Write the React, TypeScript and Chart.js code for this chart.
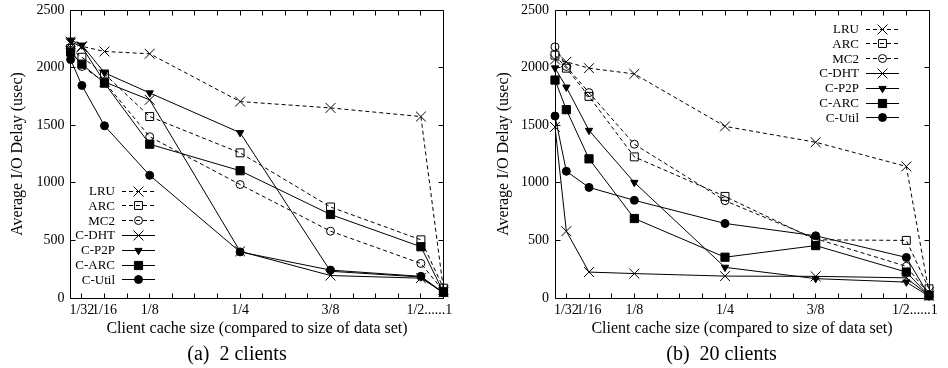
import React, { useEffect, useRef } from 'react';
import { Chart, registerables } from 'chart.js';

Chart.register(...registerables);

const FONT = "'Liberation Serif', 'Times New Roman', serif";
Chart.defaults.font.family = FONT;
Chart.defaults.color = '#000';

// ---- data ----
const cacheSizes = ['1/64', '1/32', '1/16', '1/8', '1/4', '3/8', '1/2', '1'];
// axis coordinate of each cache size (the axis is broken between 1/2 and 1)
const cacheAxisPos = [1 / 64, 1 / 32, 1 / 16, 1 / 8, 1 / 4, 3 / 8, 1 / 2, 17 / 32];

const xTickLabels = ['1/32', '1/16', '1/8', '1/4', '3/8', '1/2......1', ''];
const xTickLabelPos = [1 / 32, 1 / 16, 1 / 8, 1 / 4, 3 / 8, 131 / 256, 17 / 32];
const xMinorTicks = Array.from({ length: 16 }, (_, i) => (i + 1) / 32);
const yTicks = [0, 500, 1000, 1500, 2000, 2500];

const seriesNames = ['LRU', 'ARC', 'MC2', 'C-DHT', 'C-P2P', 'C-ARC', 'C-Util'];

// (a) 2 clients
const lru2 = [2210, 2185, 2140, 2120, 1705, 1650, 1575, 70];
const arc2 = [2165, 2090, 1945, 1575, 1260, 790, 505, 85];
const mc2_2 = [2150, 2010, 1875, 1400, 985, 580, 300, 60];
const cdht2 = [2225, 2180, 1875, 1720, 405, 195, 172, 50];
const cp2p2 = [2238, 2195, 1955, 1780, 1435, 232, 182, 40];
const carc2 = [2135, 2030, 1865, 1335, 1105, 725, 445, 50];
const cutil2 = [2070, 1845, 1495, 1065, 400, 242, 188, 45];

// (b) 20 clients
const lru20 = [2070, 2050, 1995, 1945, 1490, 1352, 1142, 50];
const arc20 = [2108, 1995, 1750, 1225, 882, 505, 500, 80];
const mc2_20 = [2180, 2010, 1783, 1335, 845, 515, 275, 30];
const cdht20 = [1485, 580, 225, 212, 190, 188, 175, 20];
const cp2p20 = [1997, 1830, 1455, 1003, 266, 168, 138, 15];
const carc20 = [1892, 1635, 1208, 690, 354, 455, 225, 20];
const cutil20 = [1580, 1100, 960, 848, 647, 540, 352, 20];

const panelA = [lru2, arc2, mc2_2, cdht2, cp2p2, carc2, cutil2];
const panelB = [lru20, arc20, mc2_20, cdht20, cp2p20, carc20, cutil20];

// ---- styles ----
type St = { dash: number[]; point: string; r: number; rot: number; filled: boolean };
const STYLES: St[] = [
  { dash: [4, 3], point: 'crossRot', r: 7, rot: 0, filled: false },
  { dash: [4, 3], point: 'rect', r: 5.6, rot: 0, filled: false },
  { dash: [4, 3], point: 'circle', r: 4, rot: 0, filled: false },
  { dash: [], point: 'crossRot', r: 7, rot: 0, filled: false },
  { dash: [], point: 'triangle', r: 4.2, rot: 180, filled: true },
  { dash: [], point: 'rect', r: 5.8, rot: 0, filled: true },
  { dash: [], point: 'circle', r: 4, rot: 0, filled: true },
];

function drawMarker(ctx: CanvasRenderingContext2D, s: St, x: number, y: number) {
  ctx.save();
  ctx.setLineDash([]);
  ctx.lineWidth = 1;
  ctx.strokeStyle = '#000';
  ctx.fillStyle = s.filled ? '#000' : 'rgba(0,0,0,0)';
  ctx.beginPath();
  const r = s.r;
  if (s.point === 'crossRot') {
    const d = r * Math.SQRT1_2;
    ctx.moveTo(x - d, y - d);
    ctx.lineTo(x + d, y + d);
    ctx.moveTo(x - d, y + d);
    ctx.lineTo(x + d, y - d);
  } else if (s.point === 'rect') {
    const d = r * Math.SQRT1_2;
    ctx.rect(x - d, y - d, 2 * d, 2 * d);
  } else if (s.point === 'circle') {
    ctx.arc(x, y, r, 0, Math.PI * 2);
  } else if (s.point === 'triangle') {
    let rad = (s.rot * Math.PI) / 180;
    ctx.moveTo(x + Math.sin(rad) * r, y - Math.cos(rad) * r);
    rad += (2 * Math.PI) / 3;
    ctx.lineTo(x + Math.sin(rad) * r, y - Math.cos(rad) * r);
    rad += (2 * Math.PI) / 3;
    ctx.lineTo(x + Math.sin(rad) * r, y - Math.cos(rad) * r);
    ctx.closePath();
  }
  if (s.filled) ctx.fill();
  ctx.stroke();
  ctx.restore();
}

type LegendCfg = {
  corner: 'bottomleft' | 'topright';
  textDx: number;
  sampleDx0: number;
  sampleDx1: number;
  rowDy: number;
  rowGap: number;
};

const decorPlugin = {
  id: 'gpDecor',
  afterDraw(chart: any, _args: any, opts: any) {
    const { ctx, chartArea: ca, scales } = chart;
    const xs = scales.x;
    const ys = scales.y;
    ctx.save();
    ctx.strokeStyle = '#000';
    ctx.lineWidth = 1;
    ctx.setLineDash([]);
    const L = Math.floor(ca.left) + 0.5;
    const R = Math.floor(ca.right) + 0.5;
    const T = Math.floor(ca.top) + 0.5;
    const B = Math.floor(ca.bottom) + 0.5;
    ctx.beginPath();
    ctx.rect(L, T, R - L, B - T);
    const tl = 5;
    xMinorTicks.forEach((v) => {
      const px = Math.floor(xs.getPixelForValue(v)) + 0.5;
      ctx.moveTo(px, B);
      ctx.lineTo(px, B - tl);
      ctx.moveTo(px, T);
      ctx.lineTo(px, T + tl);
    });
    yTicks.forEach((v) => {
      const py = Math.floor(ys.getPixelForValue(v)) + 0.5;
      ctx.moveTo(L, py);
      ctx.lineTo(L + tl, py);
      ctx.moveTo(R, py);
      ctx.lineTo(R - tl, py);
    });
    ctx.stroke();

    // legend
    const lg: LegendCfg = opts.legend;
    const anchorX = lg.corner === 'bottomleft' ? ca.left : ca.right;
    const y0 = ca.top + lg.rowDy;
    ctx.font = `13px ${FONT}`;
    ctx.fillStyle = '#000';
    ctx.textAlign = 'right';
    ctx.textBaseline = 'middle';
    chart.data.datasets.forEach((ds: any, i: number) => {
      const y = y0 + i * lg.rowGap;
      const s = STYLES[i];
      ctx.fillText(ds.label, anchorX + lg.textDx, y + 0.5);
      ctx.save();
      ctx.beginPath();
      ctx.setLineDash(s.dash);
      ctx.lineWidth = 1;
      const yy = Math.floor(y) + 0.5;
      ctx.moveTo(anchorX + lg.sampleDx0, yy);
      ctx.lineTo(anchorX + lg.sampleDx1, yy);
      ctx.stroke();
      ctx.restore();
      drawMarker(ctx, s, anchorX + (lg.sampleDx0 + lg.sampleDx1) / 2, yy);
    });
    ctx.restore();
  },
};

type PanelCfg = {
  left: number;
  padL: number;
  padR: number;
  yWidth: number;
  caption: string;
  captionCenter: number;
  values: number[][];
  legend: LegendCfg;
};

const W = 474;
const H = 368;

function Panel({ cfg }: { cfg: PanelCfg }) {
  const ref = useRef<HTMLCanvasElement>(null);
  useEffect(() => {
    if (!ref.current) return;
    const datasets = cfg.values.map((vals, i) => {
      const s = STYLES[i];
      return {
        label: seriesNames[i],
        data: vals.map((v, j) => ({ x: cacheAxisPos[j], y: v })),
        borderColor: '#000',
        borderWidth: 1,
        borderDash: s.dash,
        pointStyle: s.point,
        pointRadius: s.r,
        pointRotation: s.rot,
        pointBorderColor: '#000',
        pointBorderWidth: 1,
        pointBackgroundColor: s.filled ? '#000' : 'rgba(0,0,0,0)',
        backgroundColor: 'rgba(0,0,0,0)',
        fill: false,
        tension: 0,
        clip: false,
      };
    });
    const chart = new Chart(ref.current, {
      type: 'line',
      data: { datasets } as any,
      options: {
        responsive: false,
        animation: false,
        devicePixelRatio: 1,
        events: [],
        layout: { padding: { left: cfg.padL, right: cfg.padR, top: 10, bottom: 28 } },
        plugins: {
          legend: { display: false },
          tooltip: { enabled: false },
          gpDecor: { legend: cfg.legend },
        } as any,
        scales: {
          x: {
            type: 'linear',
            min: 1 / 64,
            max: 17 / 32,
            afterBuildTicks: (s: any) => {
              s.ticks = xTickLabelPos.map((v) => ({ value: v }));
            },
            afterFit: (s: any) => {
              s.height = 42;
              s.paddingLeft = 0;
              s.paddingRight = 0;
            },
            ticks: {
              autoSkip: false,
              maxRotation: 0,
              minRotation: 0,
              padding: 4,
              color: '#000',
              font: { family: FONT, size: 14 },
              callback: (v: any) => {
                const k = xTickLabelPos.findIndex((p) => Math.abs(p - Number(v)) < 1e-9);
                return k >= 0 ? xTickLabels[k] : '';
              },
            },
            grid: { display: false, drawTicks: false },
            border: { display: false },
            title: {
              display: true,
              text: 'Client cache size (compared to size of data set)',
              color: '#000',
              font: { family: FONT, size: 16 },
              padding: { top: 0, bottom: 2 },
            },
          },
          y: {
            type: 'linear',
            min: 0,
            max: 2500,
            afterBuildTicks: (s: any) => {
              s.ticks = yTicks.map((v) => ({ value: v }));
            },
            afterFit: (s: any) => {
              s.width = cfg.yWidth;
              s.paddingTop = 0;
              s.paddingBottom = 0;
            },
            ticks: {
              padding: 6,
              color: '#000',
              font: { family: FONT, size: 14 },
              callback: (v: any) => String(v),
            },
            grid: { display: false, drawTicks: false },
            border: { display: false },
            title: {
              display: true,
              text: 'Average I/O Delay (usec)',
              color: '#000',
              font: { family: FONT, size: 16 },
              padding: { top: 0, bottom: 0 },
            },
          },
        },
      } as any,
      plugins: [decorPlugin as any],
    });
    return () => chart.destroy();
  }, [cfg]);
  return (
    <div style={{ position: 'absolute', left: cfg.left, top: 0, width: W, height: H }}>
      <canvas ref={ref} width={W} height={H} style={{ display: 'block', width: W, height: H }} />
      <div
        style={{
          position: 'absolute',
          left: cfg.captionCenter - 150,
          width: 300,
          top: 343,
          textAlign: 'center',
          fontFamily: FONT,
          fontSize: 20,
          lineHeight: '20px',
          whiteSpace: 'pre',
          color: '#000',
        }}
      >
        {cfg.caption}
      </div>
    </div>
  );
}

const CFG_A: PanelCfg = {
  left: 0,
  padL: 8.4,
  padR: 30.5,
  yWidth: 62.2,
  caption: '(a)  2 clients',
  captionCenter: 237,
  values: panelA,
  legend: { corner: 'bottomleft', textDx: 44.4, sampleDx0: 51.4, sampleDx1: 84.4, rowDy: 181, rowGap: 14.8 },
};

const CFG_B: PanelCfg = {
  left: 474,
  padL: 20.4,
  padR: 19,
  yWidth: 60.6,
  caption: '(b)  20 clients',
  captionCenter: 247.5,
  values: panelB,
  legend: { corner: 'topright', textDx: -70, sampleDx0: -63, sampleDx1: -30, rowDy: 19, rowGap: 14.8 },
};

export default function App() {
  return (
    <div style={{ position: 'fixed', left: 0, top: 0, width: 948, height: 368, background: '#fff', overflow: 'hidden' }}>
      <Panel cfg={CFG_A} />
      <Panel cfg={CFG_B} />
    </div>
  );
}
